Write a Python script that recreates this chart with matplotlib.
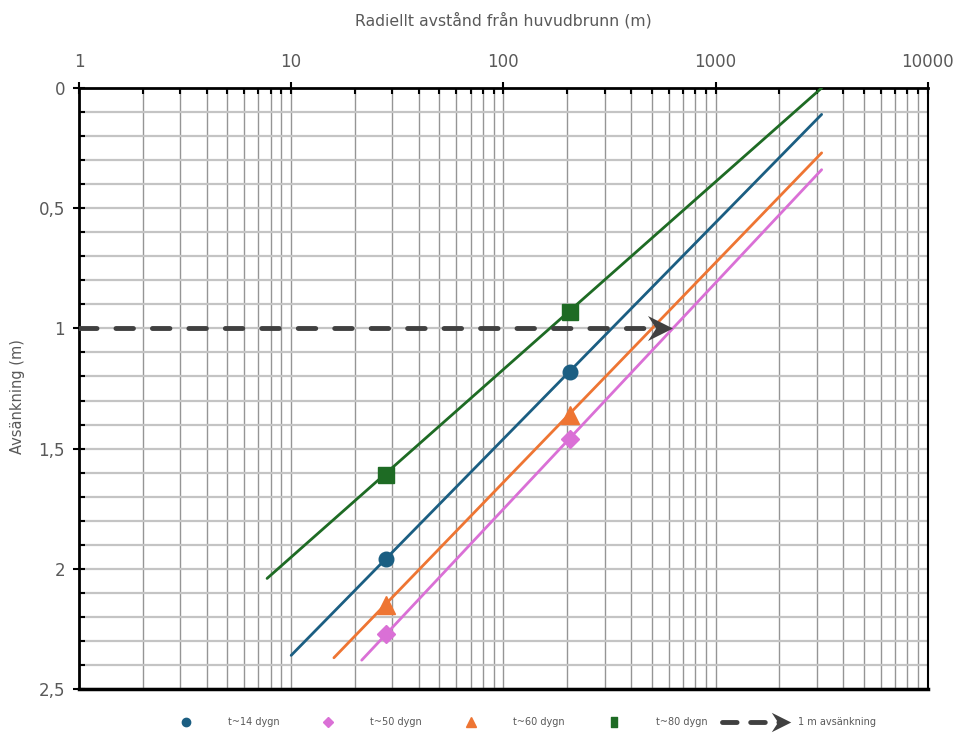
import numpy as np
import matplotlib
matplotlib.use("Agg")
import matplotlib.pyplot as plt
from matplotlib.ticker import LogLocator, MultipleLocator, FuncFormatter, NullFormatter
from matplotlib.path import Path
from matplotlib.legend_handler import HandlerLine2D

# avsänkningslinjer (ändpunkter avlästa) och mätpunkter
t14_r = [10.0, 3160]
t14_s = [2.36, 0.11]
t50_r = [21.5, 3160]
t50_s = [2.38, 0.34]
t60_r = [15.9, 3160]
t60_s = [2.37, 0.27]
t80_r = [7.7, 3160]
t80_s = [2.04, 0.0]

pts_r = [28, 205]
t14_pts = [1.96, 1.18]
t50_pts = [2.27, 1.46]
t60_pts = [2.15, 1.36]
t80_pts = [1.61, 0.93]

dash_r = [1, 550]
dash_s = [1, 1]

labels = ["t~14 dygn", "t~50 dygn", "t~60 dygn", "t~80 dygn", "1 m avsänkning"]
colors = ["#1B5E82", "#DA70D6", "#EE7533", "#1E6B24"]

gray = "#595959"

fig = plt.figure(figsize=(9.57, 7.33), dpi=100)
ax = fig.add_axes([0.0825, 0.06, 0.887, 0.82])

ax.set_xscale("log")
ax.set_xlim(1, 10000)
ax.set_ylim(2.5, 0)

# grid
ax.xaxis.set_minor_locator(LogLocator(base=10, subs=np.arange(2, 10)))
ax.xaxis.set_minor_formatter(NullFormatter())
ax.yaxis.set_major_locator(MultipleLocator(0.5))
ax.yaxis.set_minor_locator(MultipleLocator(0.1))
ax.grid(axis="x", which="both", color="#959595", lw=1.0, zorder=0)
ax.grid(axis="y", which="both", color="#c4c4c4", lw=1.6, zorder=0)

rect = Path([(-0.6, -1), (0.6, -1), (0.6, 1), (-0.6, 1), (-0.6, -1)],
            [Path.MOVETO, Path.LINETO, Path.LINETO, Path.LINETO, Path.CLOSEPOLY])

series = [
    (t14_r, t14_s, t14_pts, "o", 10.5, "o", 6),
    (t50_r, t50_s, t50_pts, "D", 8.7, "D", 4.6),
    (t60_r, t60_s, t60_pts, "^", 13.5, "^", 6.5),
    (t80_r, t80_s, t80_pts, "s", 12, rect, 7.5),
]
handles = []
for (lr, ls, ps, mk, ms, lmk, lms), c in zip(series, colors):
    ax.plot(lr, ls, color=c, lw=2.0, solid_capstyle="round", zorder=3)
    ax.plot(pts_r, ps, ls="none", marker=mk, ms=ms, color=c, zorder=4)
    h, = ax.plot([], [], ls="none", marker=lmk, ms=lms, color=c)
    handles.append(h)

# chevron marker for the arrow head
chev = Path([(-1, 1), (1, 0), (-1, -1), (-0.35, 0), (-1, 1)],
            [Path.MOVETO, Path.LINETO, Path.LINETO, Path.LINETO, Path.CLOSEPOLY])
dash_line, = ax.plot(dash_r, dash_s, color="#404040", lw=3.5, ls=(0, (3.6, 3.9)),
                     dash_capstyle="round", marker=chev, markevery=[1], ms=18,
                     markeredgewidth=0, zorder=5)
handles.append(dash_line)

# axes styling
ax.xaxis.tick_top()
ax.xaxis.set_label_position("top")
ax.xaxis.set_major_formatter(FuncFormatter(lambda v, p: f"{v:.0f}"))
ax.yaxis.set_major_formatter(FuncFormatter(lambda v, p: f"{v:g}".replace(".", ",")))
ax.tick_params(axis="both", which="major", direction="inout", length=8, width=1.5,
               color="black", labelcolor=gray, labelsize=12)
ax.tick_params(axis="both", which="minor", direction="in", length=4, width=1.5, color="black")
ax.tick_params(axis="x", which="both", top=True, bottom=False, pad=8)
ax.tick_params(axis="y", which="both", left=True, right=False, pad=6)

for side, w in [("left", 2.0), ("top", 2.0), ("bottom", 2.5), ("right", 1.5)]:
    ax.spines[side].set_color("black")
    ax.spines[side].set_linewidth(w)

ax.set_xlabel("Radiellt avstånd från huvudbrunn (m)", color=gray, fontsize=11.3, labelpad=20)
ax.set_ylabel("Avsänkning (m)", color=gray, fontsize=10.5)
ax.yaxis.set_label_coords(-0.064, 0.486)


class ArrowHandler(HandlerLine2D):
    def create_artists(self, *args, **kwargs):
        arts = super().create_artists(*args, **kwargs)
        for a in arts:
            if hasattr(a, "set_markevery"):
                x = list(a.get_xdata())
                x[-1] = x[-1] - 7
                a.set_xdata(x)
                a.set_markevery([-1])
                a.set_markersize(14)
                a.set_dashes((3.0, 2.8))
        return arts


leg = fig.legend(handles, labels, loc="center", bbox_to_anchor=(0.537, 0.015),
                 ncol=5, frameon=False, numpoints=1, handlelength=7.0,
                 handletextpad=0.82, columnspacing=1.54, fontsize=7,
                 handler_map={dash_line: ArrowHandler(numpoints=2, marker_pad=0)})
for t in leg.get_texts():
    t.set_color(gray)

fig.savefig("out.png", dpi=100)
